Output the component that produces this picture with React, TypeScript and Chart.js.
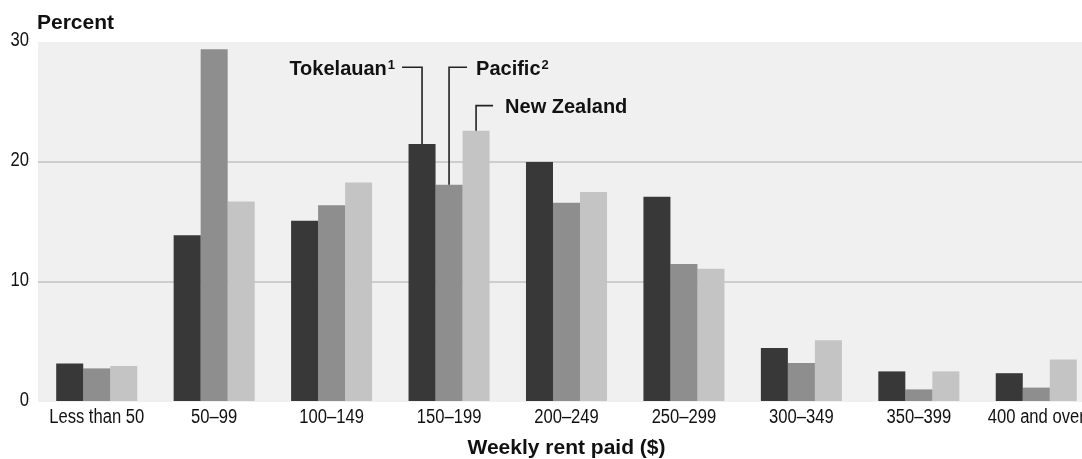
import React, { useEffect, useRef } from 'react';
import { Chart, registerables } from 'chart.js';

Chart.register(...registerables);

const categories = ['Less than 50', '50–99', '100–149', '150–199', '200–249', '250–299', '300–349', '350–399', '400 and over'];
const tokelauan = [3.2, 13.9, 15.1, 21.5, 20.0, 17.1, 4.5, 2.55, 2.4];
const pacific = [2.8, 29.4, 16.4, 18.1, 16.6, 11.5, 3.25, 1.05, 1.2];
const newZealand = [3.0, 16.7, 18.3, 22.6, 17.5, 11.1, 5.15, 2.55, 3.55];
const seriesNames = ['Tokelauan', 'Pacific', 'New Zealand'];
const seriesSup = ['1', '2', ''];
const yTickValues = [0, 10, 20, 30];

const COLORS = ['#383838', '#8e8e8e', '#c4c4c4'];
const SANS = '"Liberation Sans", Arial, sans-serif';
const NARROW_SCALE = 0.83;

function narrowText(ctx: CanvasRenderingContext2D, text: string, x: number, y: number, align: 'left' | 'center' | 'right') {
  ctx.save();
  ctx.translate(x, y);
  ctx.scale(NARROW_SCALE, 1);
  ctx.textAlign = align;
  ctx.fillText(text, 0, 0);
  ctx.restore();
}

const decorPlugin = {
  id: 'decor',
  beforeDraw(chart: any) {
    const { ctx, chartArea } = chart;
    ctx.save();
    ctx.fillStyle = '#f0f0f0';
    ctx.fillRect(chartArea.left, chartArea.top, chartArea.right - chartArea.left, chartArea.bottom - chartArea.top);
    ctx.restore();
  },
  afterDraw(chart: any) {
    const { ctx, chartArea } = chart;
    const xScale = chart.scales.x;
    const yScale = chart.scales.y;
    ctx.save();

    // tick labels (narrow face emulated)
    ctx.fillStyle = '#111';
    ctx.font = `20px ${SANS}`;
    ctx.textBaseline = 'alphabetic';
    xScale.ticks.forEach((t: any, i: number) => {
      const label = xScale.getLabelForValue(t.value);
      narrowText(ctx, label, xScale.getPixelForTick(i), 423, 'center');
    });
    ctx.textBaseline = 'middle';
    yScale.ticks.forEach((t: any) => {
      narrowText(ctx, String(t.value), chartArea.left - 9, yScale.getPixelForValue(t.value) - 2, 'right');
    });

    // y axis label
    ctx.textBaseline = 'alphabetic';
    ctx.font = `bold 21px ${SANS}`;
    ctx.textAlign = 'left';
    ctx.fillText('Percent', chartArea.left - 1, 29);
    // x axis title
    ctx.textAlign = 'center';
    ctx.fillText('Weekly rent paid ($)', (chartArea.left + chartArea.right) / 2, 454);

    // annotations on 150–199 group
    const idx = 3;
    const bars = [0, 1, 2].map((d) => chart.getDatasetMeta(d).data[idx]);
    ctx.strokeStyle = '#222';
    ctx.lineWidth = 1.6;
    const yHigh = yScale.getPixelForValue(27.9);
    const yNZ = yScale.getPixelForValue(24.7);

    // Tokelauan: label to the left
    const b0 = bars[0];
    ctx.beginPath();
    ctx.moveTo(b0.x, b0.y);
    ctx.lineTo(b0.x, yHigh);
    ctx.lineTo(b0.x - 20, yHigh);
    ctx.stroke();
    ctx.textAlign = 'right';
    ctx.font = `bold 13px ${SANS}`;
    const supX0 = b0.x - 27;
    ctx.fillText(seriesSup[0], supX0, yHigh + 2);
    const supW0 = ctx.measureText(seriesSup[0]).width;
    ctx.font = `bold 20px ${SANS}`;
    ctx.fillText(seriesNames[0], supX0 - supW0 - 1, yHigh + 7.5);

    // Pacific: label to the right
    const b1 = bars[1];
    ctx.beginPath();
    ctx.moveTo(b1.x, b1.y);
    ctx.lineTo(b1.x, yHigh);
    ctx.lineTo(b1.x + 18, yHigh);
    ctx.stroke();
    ctx.textAlign = 'left';
    ctx.font = `bold 20px ${SANS}`;
    const px = b1.x + 27;
    ctx.fillText(seriesNames[1], px, yHigh + 7.5);
    const pw = ctx.measureText(seriesNames[1]).width;
    ctx.font = `bold 13px ${SANS}`;
    ctx.fillText(seriesSup[1], px + pw + 1, yHigh + 2);

    // New Zealand
    const b2 = bars[2];
    ctx.beginPath();
    ctx.moveTo(b2.x, b2.y);
    ctx.lineTo(b2.x, yNZ);
    ctx.lineTo(b2.x + 17, yNZ);
    ctx.stroke();
    ctx.font = `bold 20px ${SANS}`;
    ctx.fillText(seriesNames[2], b2.x + 29, yNZ + 7.5);
    ctx.restore();
  },
};

export default function App() {
  const canvasRef = useRef<HTMLCanvasElement | null>(null);

  useEffect(() => {
    if (!canvasRef.current) return;
    const chart = new Chart(canvasRef.current, {
      type: 'bar',
      data: {
        labels: categories,
        datasets: [
          { label: seriesNames[0], data: tokelauan, backgroundColor: COLORS[0] },
          { label: seriesNames[1], data: pacific, backgroundColor: COLORS[1] },
          { label: seriesNames[2], data: newZealand, backgroundColor: COLORS[2] },
        ],
      },
      options: {
        animation: false,
        responsive: false,
        maintainAspectRatio: false,
        layout: { padding: { top: 42, right: 5, left: 0, bottom: 0 } },
        datasets: {
          bar: { categoryPercentage: 0.69, barPercentage: 1.0, borderWidth: 0 },
        },
        plugins: {
          legend: { display: false },
          tooltip: { enabled: false },
          title: { display: false },
        },
        scales: {
          x: {
            border: { display: false },
            grid: { display: false, drawTicks: false },
            ticks: { display: false, autoSkip: false, maxRotation: 0 },
            afterFit(scale: any) {
              scale.height = 57;
            },
          },
          y: {
            min: 0,
            max: 30,
            border: { display: false },
            afterBuildTicks(scale: any) {
              scale.ticks = yTickValues.map((v) => ({ value: v }));
            },
            grid: {
              drawTicks: false,
              lineWidth: 2,
              color: (c: any) => (c.tick && (c.tick.value === 10 || c.tick.value === 20) ? '#cdcdcd' : 'rgba(0,0,0,0)'),
            },
            ticks: { display: false },
            afterFit(scale: any) {
              scale.width = 38;
            },
          },
        },
      },
      plugins: [decorPlugin],
    });
    return () => chart.destroy();
  }, []);

  return (
    <div style={{ position: 'fixed', left: 0, top: 0, width: 1082, height: 459, overflow: 'hidden', background: '#fff' }}>
      <canvas ref={canvasRef} width={1100} height={459} style={{ display: 'block', width: 1100, height: 459 }} />
    </div>
  );
}
